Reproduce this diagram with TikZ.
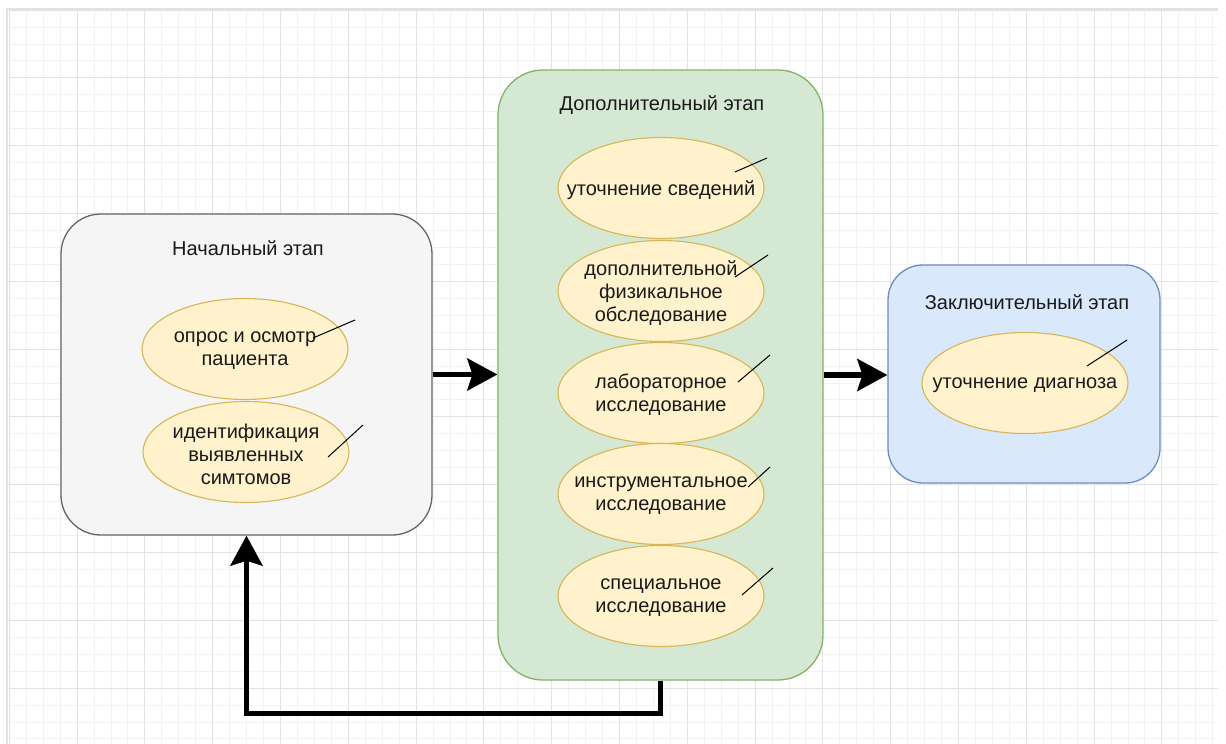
\documentclass[tikz,border=0pt]{standalone}
\usepackage{fontspec}
\setmainfont{Liberation Sans}
\usetikzlibrary{shapes.geometric,arrows.meta}

\definecolor{gridminor}{HTML}{F2F2F2}
\definecolor{gridmajor}{HTML}{E2E2E2}
\definecolor{grayfill}{HTML}{F5F5F5}
\definecolor{graystroke}{HTML}{666666}
\definecolor{greenfill}{HTML}{D5E8D4}
\definecolor{greenstroke}{HTML}{82B366}
\definecolor{bluefill}{HTML}{DAE8FC}
\definecolor{bluestroke}{HTML}{6C8EBF}
\definecolor{itemfill}{HTML}{FFF2CC}
\definecolor{itemstroke}{HTML}{D6B656}
\definecolor{ink}{HTML}{1A1A1A}

\tikzset{
  stagebox/.style={rectangle, rounded corners=#1, line width=1.3pt, inner sep=0pt},
  stagetitle/.style={text=ink, font=\fontsize{20}{23}\selectfont, inner sep=0pt},
  itemtext/.style={text=ink, align=center, inner sep=0pt,
    font=\fontsize{20}{23}\selectfont, yshift=-2pt},
  item/.style={ellipse, draw=itemstroke, fill=itemfill, line width=1.1pt,
    minimum width=206pt, minimum height=101pt, inner sep=0pt,
    label={[itemtext]center:#1}},
  flow/.style={line width=5.5pt, -{Stealth[length=30pt, width=32pt, inset=5pt]}},
  tick/.style={line width=1pt, black},
  minorline/.style={gridminor, line width=0.8pt},
  majorline/.style={gridmajor, line width=1pt},
}

\begin{document}
\begin{tikzpicture}[x=1pt, y=-1pt]
  \useasboundingbox (0,0) rectangle (1226,744);
  \fill[white] (0,0) rectangle (1226,744);

  % background grid
  \foreach \i in {0,...,71} \draw[minorline] (9.2+16.95*\i,10) -- (9.2+16.95*\i,744);
  \foreach \j in {0,...,43} \draw[minorline] (9.2,10+16.95*\j) -- (1218,10+16.95*\j);
  \foreach \i in {0,...,17} \draw[majorline] (9.2+67.8*\i,10) -- (9.2+67.8*\i,744);
  \foreach \j in {0,...,10} \draw[majorline] (9.2,10+67.8*\j) -- (1218,10+67.8*\j);
  \draw[gridmajor, line width=1.2pt] (7,744) -- (7,9) -- (1218,9);

  % stage containers
  \node[stagebox=40pt, draw=graystroke, fill=grayfill,
        minimum width=371pt, minimum height=321pt] (start) at (246.5,374.5) {};
  \node[stagebox=45pt, draw=greenstroke, fill=greenfill,
        minimum width=325pt, minimum height=610pt] (extra) at (660.5,375) {};
  \node[stagebox=35pt, draw=bluestroke, fill=bluefill,
        minimum width=272pt, minimum height=218pt] (final) at (1024,374) {};

  % stage titles
  \node[stagetitle] (startT) at (248,248) {Начальный этап};
  \node[stagetitle] (extraT) at (662,105) {Дополнительный этап};
  \node[stagetitle] (finalT) at (1027,302) {Заключительный этап};

  % steps of each stage
  \node[item={опрос и осмотр\\пациента}] (s1) at (245,349) {};
  \node[item={идентификация\\выявленных\\симтомов}] (s2) at (246,452) {};

  \node[item={уточнение сведений}] (e1) at (661,188) {};
  \node[item={дополнительной\\физикальное\\обследование}] (e2) at (661,291) {};
  \node[item={лабораторное\\исследование}] (e3) at (661,393) {};
  \node[item={инструментальное\\исследование}] (e4) at (661,494) {};
  \node[item={специальное\\исследование}] (e5) at (661,596) {};

  \node[item={уточнение диагноза}] (f1) at (1025,383) {};

  % small pen strokes
  \draw[tick] (313,338) -- (355,320);
  \draw[tick] (328,457) -- (363,425);
  \draw[tick] (735,172) -- (767,158);
  \draw[tick] (735,277) -- (768,255);
  \draw[tick] (738,382) -- (770,355);
  \draw[tick] (748,487) -- (770,467);
  \draw[tick] (742,595) -- (773,568);
  \draw[tick] (1087,366) -- (1127,340);

  % flow between stages
  \draw[flow] (start.east) -- (start.east -| extra.west);
  \draw[flow] (extra.east) -- (extra.east -| final.west);
  \draw[flow] (extra.south) -- ++(0,33) -| (start.south);
\end{tikzpicture}
\end{document}
